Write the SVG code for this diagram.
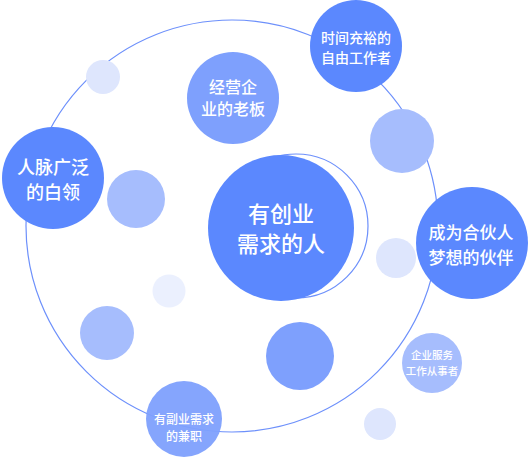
<svg xmlns="http://www.w3.org/2000/svg" width="528" height="464" viewBox="0 0 528 464">
<style>
.ring{fill:none;stroke:#6d90fb;stroke-width:1.2}
.t{fill:#fff;font-family:"Noto Sans CJK SC","Noto Sans",sans-serif;font-weight:500;text-anchor:middle;dominant-baseline:central}
.c1{fill:#5b88fe}
.c2{fill:#7ea0fd}
.c3{fill:#a6bdfd}
.c4{fill:#dee6fd}
.c5{fill:#ebf0fe}
</style>
<rect width="528" height="464" fill="#fff"/>
<g id="connectors">
<circle class="ring" cx="232" cy="226" r="206"/>
<circle class="ring" cx="296" cy="226" r="72" stroke-width="1"/>
</g>
<g id="deco">
<circle class="c4" cx="103" cy="77" r="17"/>
<circle class="c3" cx="136" cy="199" r="29"/>
<circle class="c5" cx="169" cy="291" r="16.5"/>
<circle class="c3" cx="107" cy="333" r="27"/>
<circle class="c2" cx="300" cy="356" r="34"/>
<circle class="c3" cx="402" cy="141" r="32"/>
<circle class="c4" cx="396" cy="258" r="20"/>
<circle class="c4" cx="380" cy="424" r="16"/>
</g>
<g id="center">
<circle class="c1" cx="281" cy="228" r="73"/>
<text class="t" x="281" y="212" font-size="22">有创业</text>
<text class="t" x="281" y="242" font-size="22">需求的人</text>
</g>
<g id="freelancer">
<circle class="c1" cx="356" cy="46" r="46"/>
<text class="t" x="356" y="37" font-size="14">时间充裕的</text>
<text class="t" x="356" y="57" font-size="14">自由工作者</text>
</g>
<g id="whitecollar">
<circle class="c1" cx="53" cy="178" r="51"/>
<text class="t" x="53" y="166" font-size="18">人脉广泛</text>
<text class="t" x="53" y="191" font-size="18">的白领</text>
</g>
<g id="boss">
<circle class="c2" cx="233" cy="98" r="46"/>
<text class="t" x="233" y="86" font-size="16">经营企</text>
<text class="t" x="233" y="108" font-size="16">业的老板</text>
</g>
<g id="partner">
<circle class="c1" cx="472" cy="243" r="56"/>
<text class="t" x="471" y="231" font-size="17">成为合伙人</text>
<text class="t" x="471" y="256" font-size="17">梦想的伙伴</text>
</g>
<g id="service">
<circle class="c3" cx="432" cy="363" r="30"/>
<text class="t" x="432" y="354" font-size="10.5">企业服务</text>
<text class="t" x="432" y="370" font-size="10.5">工作从事者</text>
</g>
<g id="parttime">
<circle class="c2" cx="184" cy="419" r="38" opacity="0.95"/>
<text class="t" x="184" y="418" font-size="12">有副业需求</text>
<text class="t" x="184" y="435" font-size="12">的兼职</text>
</g>
</svg>
